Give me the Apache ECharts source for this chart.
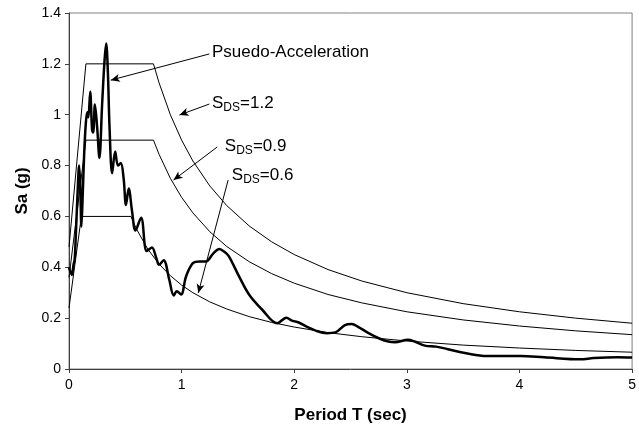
<!DOCTYPE html>
<html>
<head>
<meta charset="utf-8">
<script src="https://cdn.jsdelivr.net/npm/echarts@6/dist/echarts.min.js"></script>
<style>
  html, body { margin: 0; padding: 0; background: #fff; }
  #chart { width: 639px; height: 434px; }
</style>
</head>
<body>
<div id="chart"></div>
<script>
// Recorded response spectrum (period T in sec, spectral acceleration in g)
const recordT = [0.000, 0.010, 0.025, 0.040, 0.050, 0.060, 0.075, 0.090, 0.100, 0.110,
  0.120, 0.135, 0.150, 0.162, 0.172, 0.188, 0.205, 0.215, 0.230, 0.250,
  0.270, 0.294, 0.315, 0.330, 0.345, 0.360, 0.383, 0.410, 0.435, 0.460,
  0.485, 0.506, 0.530, 0.560, 0.590, 0.640, 0.690, 0.736, 0.775, 0.800,
  0.840, 0.890, 0.930, 0.957, 0.995, 1.040, 1.100, 1.160, 1.216, 1.280,
  1.334, 1.380, 1.420, 1.510, 1.600, 1.716, 1.850, 1.930, 1.980, 2.040,
  2.110, 2.190, 2.290, 2.365, 2.450, 2.510, 2.570, 2.660, 2.750, 2.835,
  2.895, 3.010, 3.070, 3.160, 3.260, 3.365, 3.480, 3.646, 3.720, 4.010,
  4.220, 4.540, 4.660, 4.870, 5.000];
const recordSa = [0.40, 0.385, 0.37, 0.41, 0.43, 0.52, 0.68, 0.80, 0.72, 0.56,
  0.66, 0.85, 0.97, 1.01, 0.99, 1.09, 0.94, 0.93, 1.04, 0.95,
  0.83, 1.04, 1.21, 1.28, 1.17, 0.95, 0.77, 0.855, 0.80, 0.81,
  0.75, 0.645, 0.71, 0.62, 0.545, 0.595, 0.464, 0.478, 0.437, 0.41,
  0.428, 0.352, 0.289, 0.306, 0.293, 0.365, 0.416, 0.423, 0.423, 0.454,
  0.472, 0.461, 0.443, 0.364, 0.292, 0.233, 0.180, 0.202, 0.190, 0.183,
  0.167, 0.151, 0.141, 0.144, 0.173, 0.177, 0.165, 0.141, 0.121, 0.108,
  0.105, 0.115, 0.108, 0.092, 0.088, 0.078, 0.066, 0.053, 0.051, 0.051,
  0.046, 0.038, 0.043, 0.046, 0.045];

// Design spectra for S_DS = 1.2 and 0.9 (same period samples)
const designT = [0, 0.15, 0.75, 0.8, 0.9, 1.0, 1.1, 1.25, 1.4, 1.6, 1.8, 2.0, 2.3, 2.6, 3.0, 3.5, 4.0, 4.5, 5.0];
const sds12 = [0.48, 1.2, 1.2, 1.125, 1.0, 0.9, 0.818, 0.72, 0.643, 0.5625, 0.5, 0.45, 0.391, 0.346, 0.30, 0.257, 0.225, 0.20, 0.18];
const sds09 = [0.36, 0.9, 0.9, 0.844, 0.75, 0.675, 0.614, 0.54, 0.482, 0.422, 0.375, 0.3375, 0.293, 0.26, 0.225, 0.193, 0.169, 0.15, 0.135];
// Design spectrum for S_DS = 0.6
const design06T = [0, 0.11, 0.55, 0.6, 0.7, 0.8, 0.9, 1.0, 1.1, 1.25, 1.4, 1.6, 1.8, 2.0, 2.3, 2.6, 3.0, 3.5, 4.0, 4.5, 5.0];
const sds06 = [0.24, 0.6, 0.6, 0.55, 0.471, 0.4125, 0.367, 0.33, 0.30, 0.264, 0.236, 0.206, 0.183, 0.165, 0.143, 0.127, 0.11, 0.094, 0.0825, 0.073, 0.066];

// Axis ticks
const xTicks = [0, 1, 2, 3, 4, 5];
const yTicks = [0, 0.2, 0.4, 0.6, 0.8, 1, 1.2, 1.4];

// Callouts: label, label anchor, leader start, arrow tip (data units)
const calloutLabels = ['Psuedo-Acceleration', 'S{sub|DS}=1.2', 'S{sub|DS}=0.9', 'S{sub|DS}=0.6'];
const calloutAnchors = [[1.27, 1.244], [1.27, 1.046], [1.384, 0.877], [1.446, 0.763]];
const calloutFrom = [[1.246, 1.239], [1.246, 1.042], [1.316, 0.873], [1.413, 0.743]];
const calloutTo = [[0.371, 1.136], [0.981, 0.999], [0.928, 0.743], [1.148, 0.299]];

const zip = (xs, ys) => xs.map((x, i) => [x, ys[i]]);
const FONT = '"Liberation Sans", Arial, sans-serif';

const chart = echarts.init(document.getElementById('chart'), null, { renderer: 'canvas' });

const thin = { color: '#000', width: 1 };

chart.setOption({
  animation: false,
  backgroundColor: '#fff',
  grid: {
    left: 69, right: 4, top: 13, bottom: 65,
    show: true, borderColor: '#808080', borderWidth: 1, backgroundColor: 'transparent'
  },
  xAxis: {
    type: 'value', min: xTicks[0], max: xTicks[xTicks.length - 1], interval: 1,
    name: 'Period T (sec)', nameLocation: 'middle', nameGap: 38,
    nameTextStyle: { fontFamily: FONT, fontSize: 17, fontWeight: 'bold', color: '#000' },
    axisLine: { show: true, onZero: false, lineStyle: { color: '#404040', width: 1 } },
    axisTick: { show: true, inside: false, length: 4, lineStyle: { color: '#404040' } },
    axisLabel: { fontFamily: FONT, fontSize: 14, color: '#000', margin: 9 },
    splitLine: { show: false }
  },
  yAxis: {
    type: 'value', min: yTicks[0], max: yTicks[yTicks.length - 1], interval: 0.2,
    name: 'Sa (g)', nameLocation: 'middle', nameGap: 27, nameRotate: 90,
    nameTextStyle: { fontFamily: FONT, fontSize: 17, fontWeight: 'bold', color: '#000' },
    axisLine: { show: true, lineStyle: { color: '#404040', width: 1 } },
    axisTick: { show: true, inside: false, length: 4, lineStyle: { color: '#404040' } },
    axisLabel: { fontFamily: FONT, fontSize: 14, color: '#000', margin: 8 },
    splitLine: { show: false }
  },
  series: [
    {
      name: 'SDS=1.2', type: 'line', data: zip(designT, sds12),
      showSymbol: false, lineStyle: thin, silent: true
    },
    {
      name: 'SDS=0.9', type: 'line', data: zip(designT, sds09),
      showSymbol: false, lineStyle: thin, silent: true
    },
    {
      name: 'SDS=0.6', type: 'line', data: zip(design06T, sds06),
      showSymbol: false, lineStyle: thin, silent: true
    },
    {
      name: 'Psuedo-Acceleration', type: 'line', data: zip(recordT, recordSa),
      showSymbol: false, smooth: 0.35, lineStyle: { color: '#000', width: 2.5 }, silent: true,
      markLine: {
        silent: true,
        symbol: ['none', 'arrow'],
        symbolSize: [6, 9],
        label: { show: false },
        lineStyle: { color: '#000', width: 1, type: 'solid' },
        data: calloutFrom.map((p, i) => [{ coord: p }, { coord: calloutTo[i] }])
      }
    }
  ]
});

// Callout labels, placed at their data anchors
chart.setOption({
  graphic: calloutLabels.map((txt, i) => {
    const [px, py] = chart.convertToPixel({ gridIndex: 0 }, calloutAnchors[i]);
    return {
      type: 'text', x: px, y: py, silent: true,
      style: {
        text: txt,
        fill: '#000',
        font: '17px ' + FONT,
        verticalAlign: 'middle',
        align: 'left',
        rich: {
          sub: { fontSize: 12, fontFamily: FONT, fill: '#000', verticalAlign: 'bottom', lineHeight: 12 }
        },
        lineHeight: 22
      }
    };
  })
});
</script>
</body>
</html>
